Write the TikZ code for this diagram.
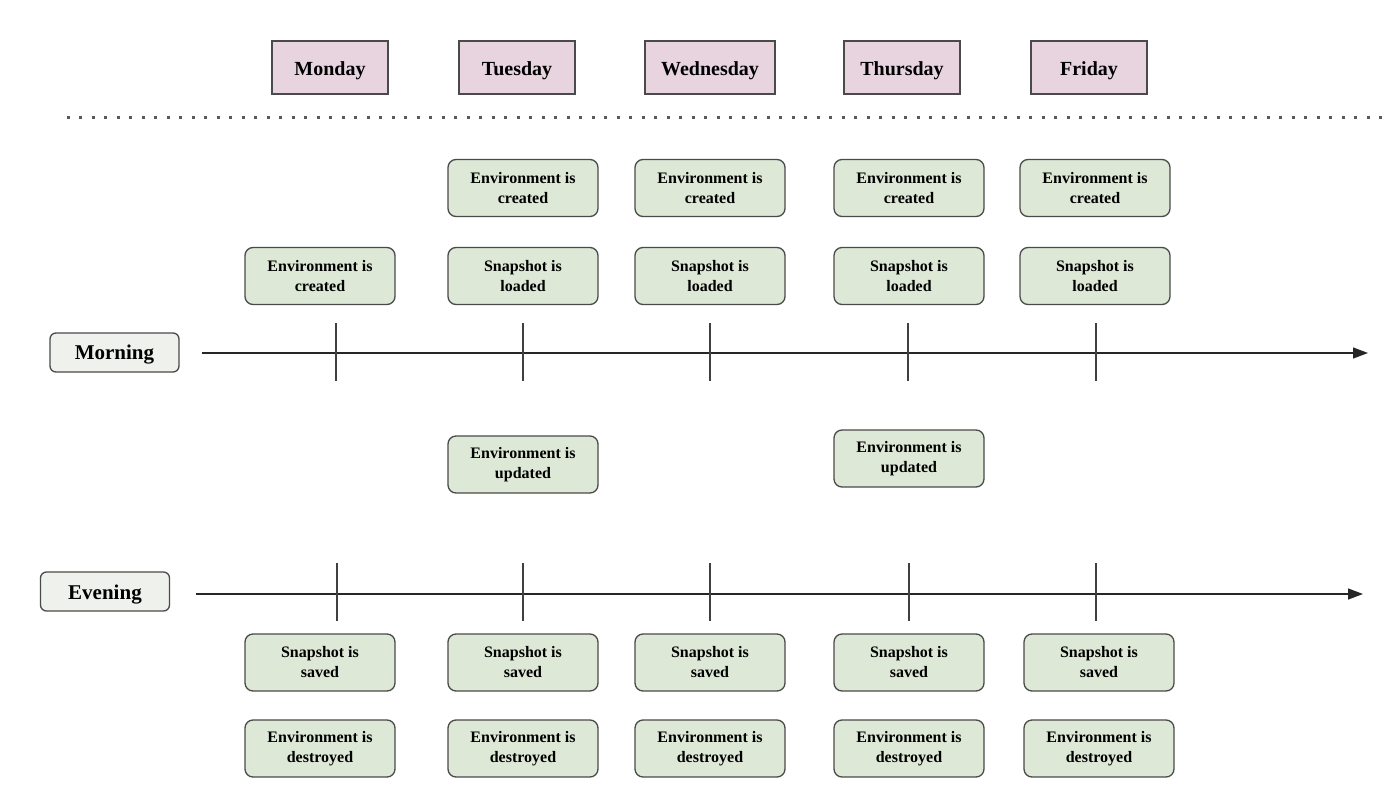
\documentclass[tikz,border=0pt]{standalone}
\usepackage{fontspec}
\setmainfont{Liberation Serif}
\usetikzlibrary{arrows.meta}
\definecolor{dayfill}{HTML}{E8D4DE}
\definecolor{evfill}{HTML}{DDE8D6}
\definecolor{slotfill}{HTML}{EFF2EC}
\definecolor{edge}{HTML}{4A4A4A}
\tikzset{
  daybox/.style={draw=edge, line width=1.4pt, fill=dayfill, minimum width=116pt, minimum height=53pt, font=\bfseries\fontsize{20}{23}\selectfont, inner sep=0pt},
  evbox/.style={draw=edge, line width=1.3pt, fill=evfill, rounded corners=8pt, minimum width=150pt, minimum height=57pt, align=center, font=\bfseries\fontsize{16}{20}\selectfont, inner sep=0pt},
  slotbox/.style={draw=edge, line width=1.3pt, fill=slotfill, rounded corners=6pt, minimum width=129pt, minimum height=39pt, font=\bfseries\fontsize{21}{24}\selectfont, inner sep=0pt},
  axis/.style={line width=1.3pt, draw=black!85, -{Triangle[length=15pt,width=11pt]}},
  tick/.style={line width=1.1pt, draw=black!75},
  sep/.style={line width=3pt, draw=black!65, dash pattern=on 3pt off 9.5pt}
}
\newcommand{\bl}[2]{\raisebox{-#1pt}[0pt][0pt]{#2}}
\begin{document}
\begin{tikzpicture}[x=1pt,y=-1pt]
\useasboundingbox (0,0) rectangle (1400,797);
% day headers
\node[daybox] (mon) at (330,67.5) {\bl{8}{Monday}};
\node[daybox] (tue) at (517,67.5) {\bl{8}{Tuesday}};
\node[daybox, minimum width=130pt] (wed) at (710,67.5) {\bl{8}{Wednesday}};
\node[daybox] (thu) at (902,67.5) {\bl{8}{Thursday}};
\node[daybox] (fri) at (1089,67.5) {\bl{8}{Friday}};
% dotted separator
\coordinate (sepL) at (66.5,118);
\coordinate (sepR) at (1390,118);
\draw[sep] (sepL) -- (sepR);
% morning boxes
\node[evbox] (tue1) at (523,188) {Environment is\\created};
\node[evbox] (wed1) at (710,188) {Environment is\\created};
\node[evbox] (thu1) at (909,188) {Environment is\\created};
\node[evbox] (fri1) at (1095,188) {Environment is\\created};
\node[evbox] (mon2) at (320,276) {Environment is\\created};
\node[evbox] (tue2) at (523,276) {Snapshot is\\loaded};
\node[evbox] (wed2) at (710,276) {Snapshot is\\loaded};
\node[evbox] (thu2) at (909,276) {Snapshot is\\loaded};
\node[evbox] (fri2) at (1095,276) {Snapshot is\\loaded};
% morning axis
\node[slotbox] (morning) at (114.5,352.5) {\bl{6.5}{Morning}};
\coordinate (mA) at (202,353);
\coordinate (mB) at (1368,353);
\draw[axis] (mA) -- (mB);
\foreach \n/\x in {m1/336,m2/523,m3/710,m4/908,m5/1096}{
  \coordinate (\n t) at (\x,323);
  \coordinate (\n b) at (\x,381);
  \draw[tick] (\n t) -- (\n b);
}
% updated
\node[evbox] (tueU) at (523,464.5) {Environment is\\updated};
\node[evbox] (thuU) at (909,458.5) {Environment is\\updated};
% evening axis
\node[slotbox] (evening) at (105,591.5) {\bl{7.5}{Evening}};
\coordinate (eA) at (196,594);
\coordinate (eB) at (1363,594);
\draw[axis] (eA) -- (eB);
\foreach \n/\x in {e1/337,e2/523,e3/710,e4/909,e5/1096}{
  \coordinate (\n t) at (\x,563);
  \coordinate (\n b) at (\x,621);
  \draw[tick] (\n t) -- (\n b);
}
% evening boxes
\node[evbox] (mon3) at (320,662.5) {Snapshot is\\saved};
\node[evbox] (tue3) at (523,662.5) {Snapshot is\\saved};
\node[evbox] (wed3) at (710,662.5) {Snapshot is\\saved};
\node[evbox] (thu3) at (909,662.5) {Snapshot is\\saved};
\node[evbox] (fri3) at (1099,662.5) {Snapshot is\\saved};
\node[evbox] (mon4) at (320,748.5) {Environment is\\destroyed};
\node[evbox] (tue4) at (523,748.5) {Environment is\\destroyed};
\node[evbox] (wed4) at (710,748.5) {Environment is\\destroyed};
\node[evbox] (thu4) at (909,748.5) {Environment is\\destroyed};
\node[evbox] (fri4) at (1099,748.5) {Environment is\\destroyed};
\end{tikzpicture}
\end{document}
